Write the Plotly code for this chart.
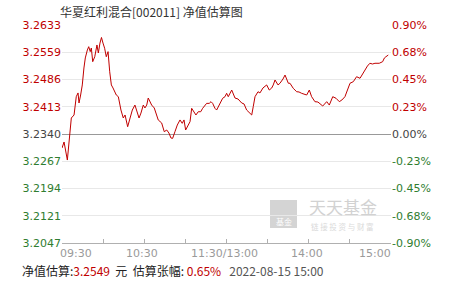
import plotly.graph_objects as go
import numpy as np

# trading minutes since 09:30 (0..240, lunch break removed)
minutes = [0, 1.5, 3.9, 5.6, 6.8, 8.8, 10.4, 11.7, 12.4, 13.6, 14.8, 16.0, 17.0, 18.5, 19.5,
           20.6, 21.4, 22.4, 23.9, 25.5, 26.5, 27.7, 28.8, 29.9, 31.1, 32.3, 33.6, 34.8, 36.0,
           37.2, 38.4, 39.6, 41.1, 43.0, 44.7, 46.0, 47.9, 49.6, 51.3, 53.2, 54.5, 56.2, 57.6,
           59.3, 60.5, 61.8, 62.9, 64.2, 65.4, 67.3, 69.1, 70.2, 72.7, 74.6, 76.4, 78.0, 79.5,
           80.7, 82.4, 84.1, 86.1, 87.7, 89.0, 90.2, 92.1, 93.4, 94.6, 96.3, 97.7, 99.4, 101.2,
           102.6, 104.3, 105.5, 107.4, 108.7, 109.9, 111.6, 112.8, 114.0, 115.2, 117.2, 118.9,
           120.1, 121.3, 122.5, 123.8, 126.2, 128.4, 131.1, 132.8, 134.7, 136.4, 138.4, 139.5,
           140.8, 143.0, 144.4, 146.6, 149.3, 151.2, 153.0, 154.1, 155.4, 157.6, 159.0, 161.2,
           162.7, 165.1, 166.3, 168.7, 171.2, 172.9, 174.8, 178.5, 180.4, 182.1, 184.5, 186.7,
           188.2, 190.2, 193.1, 195.0, 197.5, 199.9, 202.3, 204.2, 206.4, 208.2, 210.1, 212.5,
           214.9, 217.4, 219.2, 221.0, 222.8, 224.6, 226.5, 228.3, 231.4, 233.9, 235.2, 236.3,
           238.0]
pct = [-0.116, -0.066, -0.215, 0.019, 0.132, 0.157, 0.308, 0.339, 0.256, 0.322, 0.405, 0.545,
       0.628, 0.694, 0.721, 0.680, 0.710, 0.597, 0.638, 0.735, 0.669, 0.751, 0.797, 0.751,
       0.708, 0.638, 0.680, 0.514, 0.405, 0.380, 0.349, 0.322, 0.308, 0.198, 0.132, 0.157,
       0.060, 0.132, 0.198, 0.239, 0.198, 0.132, 0.173, 0.239, 0.215, 0.239, 0.297, 0.267,
       0.239, 0.215, 0.157, 0.116, 0.091, 0.019, 0.033, 0.008, -0.033, -0.036, 0.019, 0.074,
       0.116, 0.088, 0.116, 0.033, 0.074, 0.102, 0.212, 0.184, 0.157, 0.184, 0.184, 0.212,
       0.239, 0.253, 0.253, 0.267, 0.253, 0.212, 0.198, 0.225, 0.253, 0.295, 0.308, 0.336,
       0.308, 0.336, 0.363, 0.297, 0.289, 0.256, 0.248, 0.198, 0.182, 0.157, 0.225, 0.308,
       0.349, 0.339, 0.380, 0.405, 0.363, 0.380, 0.405, 0.446, 0.405, 0.419, 0.454, 0.487,
       0.419, 0.419, 0.377, 0.349, 0.347, 0.336, 0.322, 0.363, 0.308, 0.267, 0.264, 0.253,
       0.231, 0.267, 0.239, 0.308, 0.295, 0.267, 0.281, 0.308, 0.363, 0.419, 0.432, 0.473,
       0.460, 0.495, 0.528, 0.561, 0.584, 0.578, 0.584, 0.584, 0.597, 0.628, 0.638, 0.652]

left_ticks = ["3.2047", "3.2121", "3.2194", "3.2267", "3.2340", "3.2413", "3.2486", "3.2559", "3.2633"]
right_ticks = ["-0.90%", "-0.68%", "-0.45%", "-0.23%", "0.00%", "0.23%", "0.45%", "0.68%", "0.90%"]
x_tick_minutes = [0, 60, 120, 180, 240]
x_tick_labels = ["09:30", "10:30", "11:30/13:00", "14:00", "15:00"]

title_text = "华夏红利混合[002011] 净值估算图"
est_nav = "3.2549"
est_chg = "0.65%"
est_time = "2022-08-15 15:00"

RED = "#c00000"
GREEN = "#2f7d2f"
GRAY = "#444444"

def colored(labels, mid):
    out = []
    for i, t in enumerate(labels):
        c = GREEN if i < mid else (GRAY if i == mid else RED)
        out.append(f"<span style='color:{c}'>{t}</span>")
    return out

fig = go.Figure()
fig.add_trace(go.Scatter(x=minutes, y=pct, mode="lines", yaxis="y2",
                         line=dict(color=RED, width=1), hoverinfo="skip"))
# invisible trace to activate left axis
fig.add_trace(go.Scatter(x=[0], y=[3.2340], mode="markers", yaxis="y",
                         marker=dict(opacity=0), hoverinfo="skip"))

lo, hi = 3.2047, 3.2633
fig.update_layout(
    width=451, height=281,
    margin=dict(l=62, r=60, t=25, b=38),
    paper_bgcolor="white", plot_bgcolor="white",
    showlegend=False,
    font=dict(family="DejaVu Sans", size=11),
    xaxis=dict(range=[0, 240], tickvals=list(range(0, 241, 30)), showticklabels=False,
               ticks="inside", ticklen=4, tickcolor="#b0b0b0", showgrid=False,
               showline=True, linecolor="#b0b0b0", linewidth=1, zeroline=False,
               fixedrange=True),
    yaxis=dict(range=[lo, hi], tickvals=list(np.linspace(lo, hi, 9)),
               ticktext=colored(left_ticks, 4), showgrid=False, zeroline=False,
               ticks="", tickfont=dict(size=11, family="DejaVu Sans"), fixedrange=True),
    yaxis2=dict(range=[-0.9, 0.9], tickvals=list(np.linspace(-0.9, 0.9, 9)),
                ticktext=colored(right_ticks, 4), overlaying="y", side="right",
                showgrid=True, gridcolor="#e8e8e8", gridwidth=1,
                zeroline=True, zerolinecolor="#999999", zerolinewidth=1,
                ticks="", tickfont=dict(size=11, family="DejaVu Sans"), fixedrange=True),
)

# x tick labels
for i, (m, lab) in enumerate(zip(x_tick_minutes, x_tick_labels)):
    anchor = "left" if i == 0 else ("right" if i == len(x_tick_labels) - 1 else "center")
    xs = -4 if i == 0 else (2 if i == len(x_tick_labels) - 1 else -2)
    fig.add_annotation(x=m, y=0, xref="x", yref="paper", text=lab, showarrow=False,
                       xanchor=anchor, yanchor="top", xshift=xs, yshift=-2,
                       font=dict(size=11, color="#9a9a9a", family="DejaVu Sans"))

# title
fig.add_annotation(x=-4 / 329, y=1, xref="paper", yref="paper", text=title_text,
                   showarrow=False, xanchor="left", yanchor="bottom", yshift=3,
                   font=dict(size=12, color="#333333", family="Noto Sans CJK SC"))

# bottom info line
NB = "\u00a0"
info = (f"净值估算:<span style='color:{RED}'>{est_nav}</span>{NB*2}元{NB*2}"
        f"估算张幅:{NB}<span style='color:{RED}'>{est_chg}</span>{NB*3}"
        f"<span style='color:#555555'>{est_time}</span>")
fig.add_annotation(x=-42 / 329, y=0, xref="paper", yref="paper", text=info,
                   showarrow=False, xanchor="left", yanchor="top", yshift=-17,
                   font=dict(size=12, color="#222222", family="Noto Sans CJK SC"))

# watermark
def px_x(p):
    return (p - 62) / 329
def px_y(p):
    return (243 - p) / 218
fig.add_shape(type="rect", xref="paper", yref="paper", x0=px_x(270), x1=px_x(297),
              y0=px_y(228), y1=px_y(200), fillcolor="#d4d4d4", line=dict(width=0),
              layer="below")
fig.add_annotation(x=px_x(283.5), y=px_y(221), xref="paper", yref="paper", text="基金",
                   showarrow=False, xanchor="center", yanchor="middle",
                   font=dict(size=8, color="white", family="Noto Sans CJK SC"))
fig.add_annotation(x=px_x(342.5), y=px_y(206), xref="paper", yref="paper", text="天天基金",
                   showarrow=False, xanchor="center", yanchor="middle",
                   font=dict(size=17, color="#d2d2d2", family="Noto Sans CJK SC"))
fig.add_annotation(x=px_x(342.5), y=px_y(226.5), xref="paper", yref="paper",
                   text="链 接 投 资 与 财 富", showarrow=False, xanchor="center", yanchor="middle",
                   font=dict(size=7.5, color="#dadada", family="Noto Sans CJK SC"))

fig.write_html("out.html")
